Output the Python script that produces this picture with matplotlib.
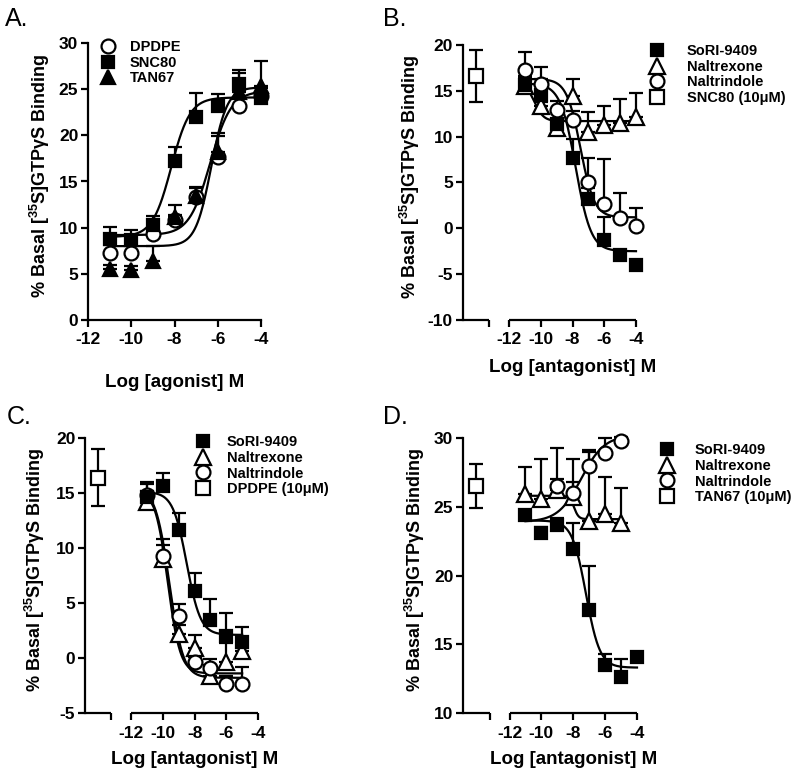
import numpy as np
import matplotlib
matplotlib.use('Agg')
import matplotlib.pyplot as plt
from matplotlib.lines import Line2D

# --- data ---
log_dose = [-11, -10, -9, -8, -7, -6, -5, -4]
log_dose_c = [-11, -10, -9, -8, -7, -6, -5]
log_dose_d_short = [-11, -10, -9, -8, -7, -6, -5]
log_dose_d_nti = [-9, -8, -7, -6, -5]
control_x = -14.1
x_ticks = [-12, -10, -8, -6, -4]

# panel A (agonists)
dpdpe_a = [7.3, 7.3, 9.3, 10.8, 13.3, 17.6, 23.2, 24.3]
dpdpe_a_err = [0.8, 0.9, 0.7, 0.6, 1.0, 2.3, 0.8, 0.8]
snc80_a = [8.8, 8.7, 10.3, 17.2, 22.0, 23.2, 25.6, 24.0]
snc80_a_err = [1.3, 1.1, 1.0, 1.5, 2.6, 1.3, 1.5, 0.6]
tan67_a = [5.5, 5.4, 6.4, 11.2, 13.4, 18.2, 24.7, 25.3]
tan67_a_err = [0.5, 0.5, 1.6, 1.3, 1.0, 2.0, 2.0, 2.7]
# fit parameters: start, end, log mid-point, slope
fit_dpdpe_a = [9.2, 24.8, -6.35, 0.9]
fit_snc80_a = [9.0, 24.1, -8.15, 1.0]
fit_tan67_a = [8.0, 25.2, -6.3, 1.2]

# panel B (vs SNC80)
ctrl_b, ctrl_b_err = 16.6, 2.8
sori_b = [15.6, 14.5, 11.4, 7.7, 3.2, -1.3, -2.9, -4.0]
sori_b_err = [1.0, 1.8, 1.5, 2.0, 1.2, 2.5, 0.5, 0.4]
ntx_b = [15.5, 13.3, 10.9, 14.4, 10.5, 11.3, 11.5, 12.1]
ntx_b_err = [1.0, 0.5, 0.8, 1.9, 2.2, 2.0, 2.6, 2.7]
nti_b = [17.3, 15.7, 12.9, 11.8, 5.1, 2.6, 1.1, 0.2]
nti_b_err = [1.9, 1.9, 1.0, 1.0, 2.6, 5.0, 2.8, 2.0]
fit_sori_b = [15.8, -2.5, -7.8, 0.9]
fit_ntx_b = [15.9, 11.7, -10.4, 1.5]
fit_nti_b = [16.3, 1.2, -7.5, 1.0]

# panel C (vs DPDPE)
ctrl_c, ctrl_c_err = 16.4, 2.6
sori_c = [14.6, 15.6, 11.6, 6.1, 3.5, 2.0, 1.5]
sori_c_err = [1.4, 1.2, 1.6, 1.6, 1.9, 2.1, 1.3]
ntx_c = [14.2, 9.0, 2.2, 0.9, -1.6, -0.4, 0.6]
ntx_c_err = [1.0, 1.8, 0.8, 1.2, 1.0, 1.8, 1.0]
nti_c = [14.8, 9.3, 3.8, -0.4, -0.9, -2.4, -2.4]
nti_c_err = [1.0, 1.0, 1.1, 0.5, 0.8, 0.8, 1.6]
fit_sori_c = [15.1, 2.1, -8.5, 1.0]
fit_ntx_c = [15.3, -1.4, -9.7, 1.1]
fit_nti_c = [15.5, -1.8, -9.6, 1.0]

# panel D (vs TAN67)
ctrl_d, ctrl_d_err = 26.5, 1.6
sori_d = [24.4, 23.1, 23.7, 21.9, 17.5, 13.5, 12.6, 14.1]
sori_d_err = [0.4, 0.4, 0.5, 1.9, 3.2, 0.8, 1.3, 0.3]
ntx_d = [25.9, 25.6, 26.2, 25.7, 24.0, 24.5, 23.8]
ntx_d_err = [2.0, 2.9, 3.1, 2.8, 5.0, 2.7, 2.6]
nti_d = [26.5, 26.0, 28.0, 28.9, 29.75]
nti_d_err = [0.5, 0.8, 1.1, 1.1, 0.3]
fit_sori_d = [24.0, 13.3, -7.2, 1.0]
fit_ntx_d = [25.8, 24.1, -7.95, 3.0]
fit_nti_d = [23.9, 30.2, -7.5, 0.6]

# --- style ---
plt.rcParams['font.family'] = ['Liberation Sans', 'DejaVu Sans']
plt.rcParams['font.weight'] = 'bold'
plt.rcParams['axes.labelweight'] = 'bold'
plt.rcParams['axes.unicode_minus'] = False
plt.rcParams['mathtext.fontset'] = 'custom'
plt.rcParams['mathtext.rm'] = 'Liberation Sans:bold'
plt.rcParams['mathtext.it'] = 'Liberation Sans:bold'
plt.rcParams['mathtext.bf'] = 'Liberation Sans:bold'

W, H = 800, 777
fig = plt.figure(figsize=(8, 7.77), dpi=100)
LW = 1.6

filled_square = dict(marker='s', mfc='black', mec='black', ms=9)
open_square = dict(marker='s', mfc='white', mec='black', ms=9.5)
open_circle = dict(marker='o', mfc='white', mec='black', ms=10)
filled_triangle = dict(marker='^', mfc='black', mec='black', ms=10.5)
open_triangle = dict(marker='^', mfc='white', mec='black', ms=11)

ylabel_text = '% Basal [$^{35}$S]GTPγS Binding'


def axes_px(left, right, top, bottom):
    return fig.add_axes([left / W, 1 - bottom / H, (right - left) / W, (bottom - top) / H])


def draw_series(ax, x, mean, err, style, both=False):
    err = np.atleast_1d(err)
    lower = err if both else np.zeros(len(err))
    ax.errorbar(x, mean, yerr=[lower, err], fmt='none', ecolor='black',
                elinewidth=LW, capsize=5, capthick=LW, clip_on=False, zorder=3)
    ax.plot(x, mean, linestyle='none', mew=LW, clip_on=False, zorder=4, **style)


def draw_fit(ax, x0, x1, params):
    start, end, mid, slope = params
    xs = np.linspace(x0, x1, 300)
    ax.plot(xs, start + (end - start) / (1 + 10 ** ((mid - xs) * slope)),
            color='black', lw=LW, zorder=2, clip_on=False)


def finish(ax, xlim, ylim, yticks, broken, ylab_dx, xlab_dy, width_px, height_px, xlabel):
    ax.set_xlim(xlim)
    ax.set_ylim(ylim)
    ax.set_yticks(list(yticks), labels=[str(t) for t in yticks], fontweight='bold')
    ax.set_xticks(x_ticks, labels=[str(t) for t in x_ticks], fontweight='bold')
    for s in ('top', 'right'):
        ax.spines[s].set_visible(False)
    for s in ('left', 'bottom'):
        ax.spines[s].set_linewidth(LW)
    ax.tick_params(width=LW, length=5, labelsize=12.5)
    ax.tick_params(axis='y', pad=2)
    ax.tick_params(axis='x', pad=4)
    if broken:
        seg_end = -13.25
        ax.spines['bottom'].set_visible(False)
        ax.plot([xlim[0], seg_end], [ylim[0]] * 2, color='black', lw=LW, clip_on=False, solid_capstyle='butt')
        ax.plot([-12, -4], [ylim[0]] * 2, color='black', lw=LW, clip_on=False, solid_capstyle='butt')
        ax.set_xticks([seg_end], minor=True)
        ax.tick_params(axis='x', which='minor', length=5, width=LW)
        xl = (-8 - xlim[0]) / (xlim[1] - xlim[0])
    else:
        xl = 0.5
    ax.set_ylabel(ylabel_text, fontsize=13, fontweight='bold')
    ax.yaxis.set_label_coords(-ylab_dx / width_px, 0.52)
    ax.yaxis.label.set_va('center')
    ax.set_xlabel(xlabel, fontsize=13.5, fontweight='bold')
    ax.xaxis.set_label_coords(xl, -xlab_dy / height_px)
    ax.xaxis.label.set_va('center')


def add_legend(ax, styles, labels, marker_x, first_row_y, text_x):
    fs = 10.5
    hl = fs * 100 / 72
    handles = [Line2D([], [], linestyle='none', mew=LW, **s) for s in styles]
    ax.legend(handles, labels, loc='upper left',
              bbox_to_anchor=((marker_x - hl / 2) / W, 1 - (first_row_y - 8) / H),
              bbox_transform=fig.transFigure, frameon=False, borderpad=0,
              borderaxespad=0, handlelength=1.0,
              handletextpad=(text_x - marker_x - hl / 2) / hl,
              labelspacing=0.12, prop={'weight': 'bold', 'size': fs})


# ---------- A ----------
ax = axes_px(88, 261, 43, 320)
draw_fit(ax, -11, -4, fit_dpdpe_a)
draw_fit(ax, -11, -4, fit_snc80_a)
draw_fit(ax, -11, -4, fit_tan67_a)
draw_series(ax, log_dose, dpdpe_a, dpdpe_a_err, open_circle)
draw_series(ax, log_dose, tan67_a, tan67_a_err, filled_triangle)
draw_series(ax, log_dose, snc80_a, snc80_a_err, filled_square)
finish(ax, (-12, -4), (0, 30), range(0, 31, 5), False, 48, 63, 173, 277, 'Log [agonist] M')
add_legend(ax, [open_circle, filled_square, filled_triangle], ['DPDPE', 'SNC80', 'TAN67'], 108, 48, 130)
fig.text(5 / W, 1 - 19 / H, 'A.', fontsize=18, fontweight='normal', va='center', ha='left')

xlim_b = (-14.92, -4)

# ---------- B ----------
ax = axes_px(462.7, 636, 45, 320)
draw_fit(ax, -11, -4, fit_ntx_b)
draw_fit(ax, -11, -4, fit_nti_b)
draw_fit(ax, -11, -4, fit_sori_b)
draw_series(ax, [control_x], [ctrl_b], [ctrl_b_err], open_square, both=True)
draw_series(ax, log_dose, ntx_b, ntx_b_err, open_triangle)
draw_series(ax, log_dose, sori_b, sori_b_err, filled_square)
draw_series(ax, log_dose, nti_b, nti_b_err, open_circle)
finish(ax, xlim_b, (-10, 20), range(-10, 21, 5), True, 52.7, 48, 173.3, 275, 'Log [antagonist] M')
add_legend(ax, [filled_square, open_triangle, open_circle, open_square],
           ['SoRI-9409', 'Naltrexone', 'Naltrindole', 'SNC80 (10μM)'], 657, 52, 687)
fig.text(383 / W, 1 - 19 / H, 'B.', fontsize=18, fontweight='normal', va='center', ha='left')

# ---------- C ----------
ax = axes_px(85, 258, 438, 713)
draw_fit(ax, -11, -5, fit_sori_c)
draw_fit(ax, -11, -5, fit_ntx_c)
draw_fit(ax, -11, -5, fit_nti_c)
draw_series(ax, [control_x], [ctrl_c], [ctrl_c_err], open_square, both=True)
draw_series(ax, log_dose_c, ntx_c, ntx_c_err, open_triangle)
draw_series(ax, log_dose_c, nti_c, nti_c_err, open_circle)
draw_series(ax, log_dose_c, sori_c, sori_c_err, filled_square)
finish(ax, xlim_b, (-5, 20), range(-5, 21, 5), True, 50, 47, 173, 275, 'Log [antagonist] M')
add_legend(ax, [filled_square, open_triangle, open_circle, open_square],
           ['SoRI-9409', 'Naltrexone', 'Naltrindole', 'DPDPE (10μM)'], 203, 443, 227)
fig.text(7 / W, 1 - 417 / H, 'C.', fontsize=18, fontweight='normal', va='center', ha='left')

# ---------- D ----------
ax = axes_px(463, 637, 438, 713)
draw_fit(ax, -11, -4, fit_sori_d)
draw_fit(ax, -11, -5, fit_ntx_d)
draw_fit(ax, -11, -5, fit_nti_d)
draw_series(ax, [control_x], [ctrl_d], [ctrl_d_err], open_square, both=True)
draw_series(ax, log_dose_d_short, ntx_d, ntx_d_err, open_triangle)
draw_series(ax, log_dose_d_nti, nti_d, nti_d_err, open_circle)
draw_series(ax, log_dose, sori_d, sori_d_err, filled_square)
finish(ax, xlim_b, (10, 30), range(10, 31, 5), True, 48, 47, 174, 275, 'Log [antagonist] M')
add_legend(ax, [filled_square, open_triangle, open_circle, open_square],
           ['SoRI-9409', 'Naltrexone', 'Naltrindole', 'TAN67 (10μM)'], 667, 451, 695)
fig.text(383 / W, 1 - 417 / H, 'D.', fontsize=18, fontweight='normal', va='center', ha='left')

fig.savefig('out.png', dpi=100)
